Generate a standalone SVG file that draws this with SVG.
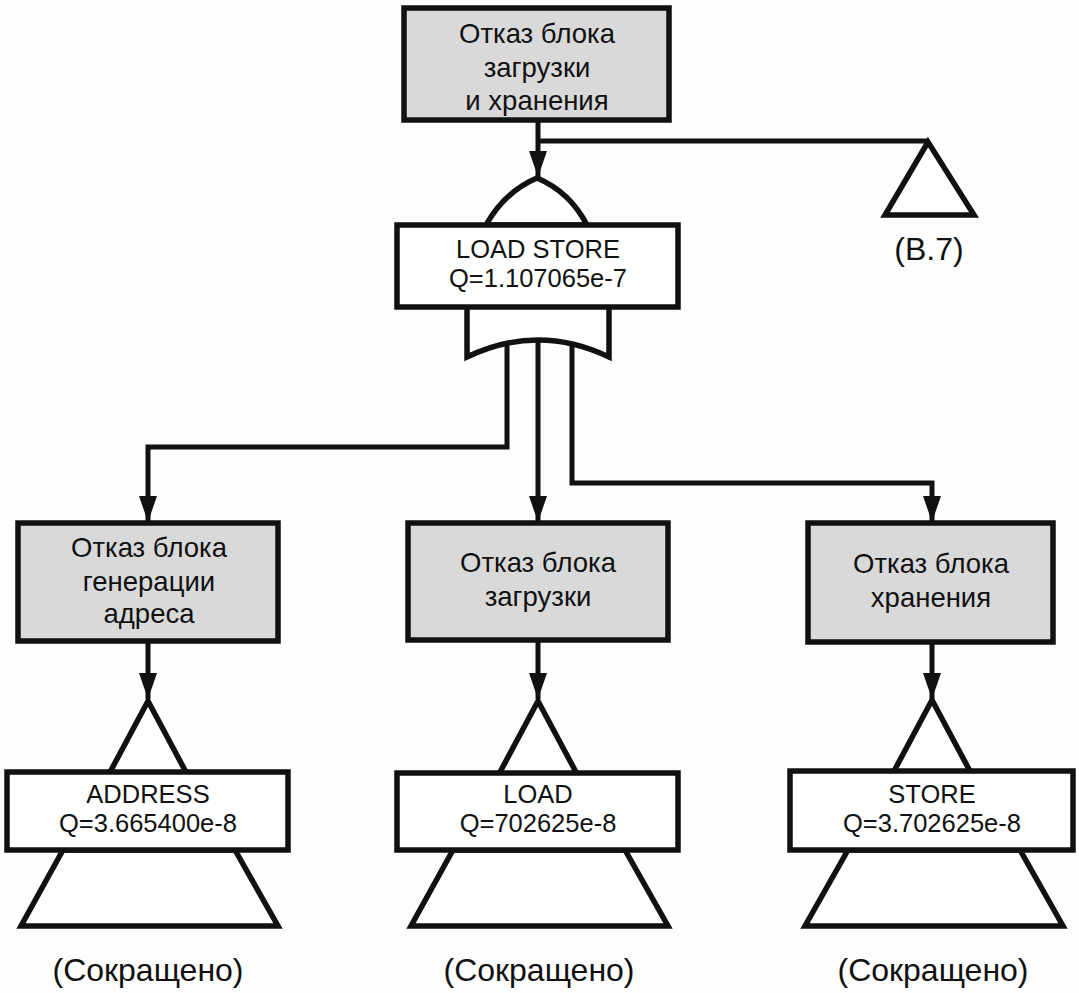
<svg xmlns="http://www.w3.org/2000/svg" width="1079" height="993" viewBox="0 0 1079 993">
<defs>
<marker id="arr" viewBox="0 0 26 18" refX="26" refY="9" markerWidth="26" markerHeight="18" markerUnits="userSpaceOnUse" orient="auto">
<path d="M0,0 L26,9 L0,18 Z" fill="#111"/>
</marker>
<style>
.ev{fill:#d9d9d9;stroke:#111;stroke-width:5.5}
.bx{fill:#fff;stroke:#111;stroke-width:5.5}
.sh{fill:#fff;stroke:#111;stroke-width:5.5;stroke-linejoin:miter}
.ln{fill:none;stroke:#111;stroke-width:5}
text{font-family:"Liberation Sans",Arial,sans-serif;fill:#111;text-anchor:middle}
.t1{font-size:27.5px}
.t2{font-size:25.5px}
.t3{font-size:32px}
</style>
</defs>
<rect width="1079" height="993" fill="#fdfdfd"/>

<g id="connectors">
<path class="ln" d="M538,120 V177" marker-end="url(#arr)"/>
<path class="ln" d="M538,141 H928"/>
<path class="ln" d="M507,343 V447 H148 V522" marker-end="url(#arr)"/>
<path class="ln" d="M538,340 V522" marker-end="url(#arr)"/>
<path class="ln" d="M572,344 V483 H932 V522" marker-end="url(#arr)"/>
<path class="ln" d="M148,641 V699" marker-end="url(#arr)"/>
<path class="ln" d="M538,640 V699" marker-end="url(#arr)"/>
<path class="ln" d="M932,642 V699" marker-end="url(#arr)"/>
</g>

<g id="top">
<rect class="ev" x="404" y="8" width="265" height="112"/>
<text class="t1" x="537" y="43">Отказ блока</text>
<text class="t1" x="537" y="77">загрузки</text>
<text class="t1" x="537" y="110">и хранения</text>
</g>

<g id="transfer-b7">
<polygon class="sh" points="928,142 885,215 974,215"/>
<text class="t3" x="929" y="260">(B.7)</text>
</g>

<g id="gate-loadstore">
<path class="sh" d="M486,225 C500,200 518,186 537,178 C556,186 574,200 587,225 Z"/>
<path class="sh" d="M467,305 V357 Q538,323 609,357 V305 Z"/>
<rect class="bx" x="397" y="225" width="281" height="82"/>
<text class="t2" x="538" y="258">LOAD STORE</text>
<text class="t2" x="538" y="287">Q=1.107065e-7</text>
</g>

<g id="ev-address">
<rect class="ev" x="18" y="523" width="260" height="118"/>
<text class="t1" x="149" y="557">Отказ блока</text>
<text class="t1" x="149" y="591">генерации</text>
<text class="t1" x="149" y="623">адреса</text>
</g>

<g id="ev-load">
<rect class="ev" x="408" y="523" width="260" height="117"/>
<text class="t1" x="538" y="572">Отказ блока</text>
<text class="t1" x="538" y="606">загрузки</text>
</g>

<g id="ev-store">
<rect class="ev" x="808" y="523" width="245" height="119"/>
<text class="t1" x="931" y="573">Отказ блока</text>
<text class="t1" x="931" y="607">хранения</text>
</g>

<g id="address">
<polyline class="sh" points="109,774 148,701 187,774"/>
<polygon class="sh" points="63,850 235,850 278,926 21,926"/>
<rect class="bx" x="7" y="772" width="281" height="78"/>
<text class="t2" x="148" y="803">ADDRESS</text>
<text class="t2" x="148" y="832">Q=3.665400e-8</text>
<text class="t3" x="148" y="981">(Сокращено)</text>
</g>

<g id="load">
<polyline class="sh" points="499,774 538,701 577,774"/>
<polygon class="sh" points="453,850 625,850 668,926 411,926"/>
<rect class="bx" x="397" y="773" width="281" height="77"/>
<text class="t2" x="538" y="803">LOAD</text>
<text class="t2" x="538" y="832">Q=702625e-8</text>
<text class="t3" x="539" y="981">(Сокращено)</text>
</g>

<g id="store">
<polyline class="sh" points="893,773 932,700 971,773"/>
<polygon class="sh" points="848,850 1020,850 1063,926 805,926"/>
<rect class="bx" x="790" y="771" width="283" height="79"/>
<text class="t2" x="932" y="803">STORE</text>
<text class="t2" x="932" y="832">Q=3.702625e-8</text>
<text class="t3" x="933" y="981">(Сокращено)</text>
</g>
</svg>
